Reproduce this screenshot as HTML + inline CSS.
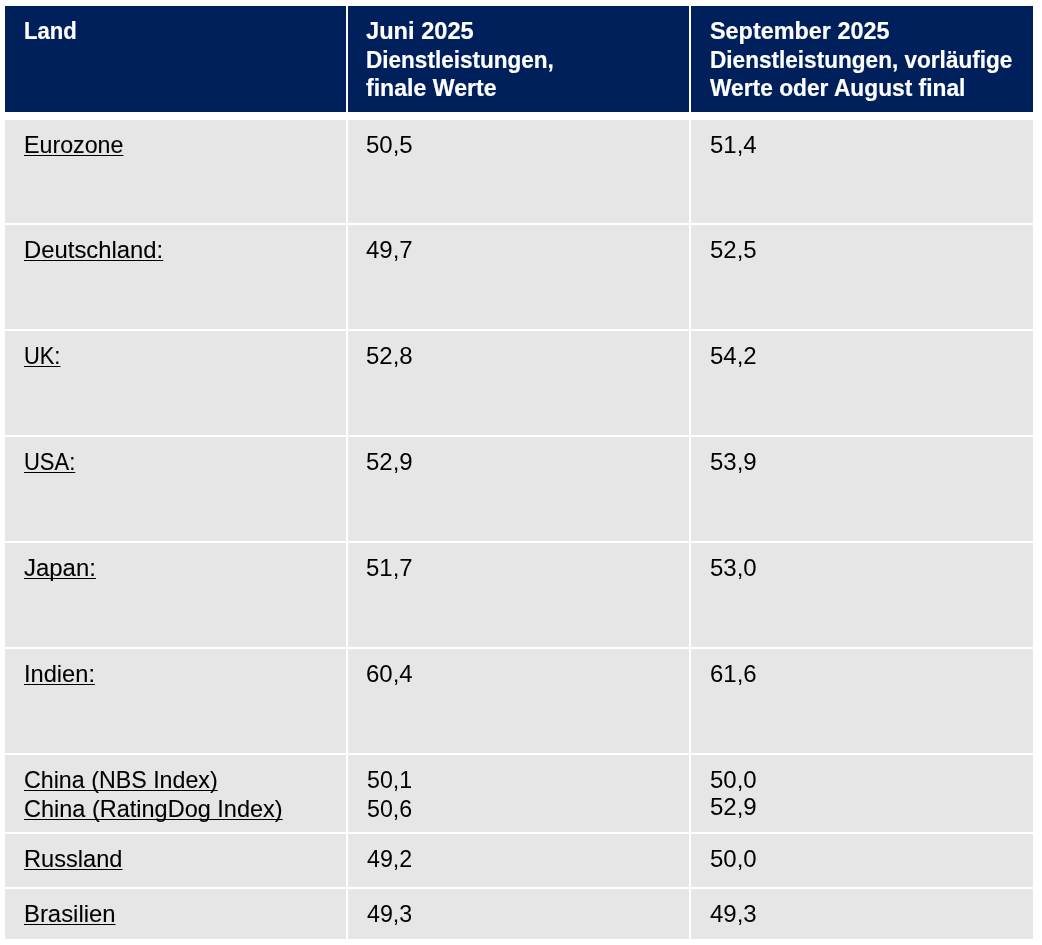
<!DOCTYPE html>
<html lang="de">
<head>
<meta charset="utf-8">
<title>Einkaufsmanagerindizes Dienstleistungen</title>
<style>
html,body{margin:0;padding:0;background:#fff;}
body{width:1042px;height:945px;position:relative;overflow:hidden;font-family:"Liberation Sans",sans-serif;color:#000;}
table{position:absolute;left:3px;top:4px;width:1032px;border-collapse:separate;border-spacing:2px;table-layout:fixed;}
th,td{position:relative;padding:0;margin:0;border:0;background:#e6e6e6;text-align:left;vertical-align:top;font-weight:400;}
th{background:#00205b;background-clip:padding-box;border-bottom:6px solid #fff;height:106px;}
.t{position:absolute;display:block;white-space:nowrap;line-height:28px;font-variant-ligatures:none;transform-origin:0 0;}
.rb{font-weight:700;font-size:24.5px;color:#fff;-webkit-text-stroke:0.2px #fff;}
.rr{font-size:24.5px;-webkit-text-stroke:0.1px #000;text-decoration:underline;text-decoration-thickness:1.3px;text-underline-offset:2.3px;text-decoration-skip-ink:none;}
.rn{font-size:24.5px;}
.ar{font-size:24px;}
</style>
</head>
<body>
<table>
<colgroup><col style="width:341px"><col style="width:341px"><col style="width:342px"></colgroup>
<thead>
<tr>
<th scope="col"><span class="t rb" style="left:18.8px;top:11px;transform:scaleX(0.9020);">Land</span></th>
<th scope="col"><span class="t rb" style="left:18px;top:11px;transform:scaleX(0.9643);">Juni 2025</span><span class="t rb" style="left:18px;top:40px;transform:scaleX(0.9200);">Dienstleistungen,</span><span class="t rb" style="left:18px;top:68px;transform:scaleX(0.9432);">finale Werte</span></th>
<th scope="col"><span class="t rb" style="left:19px;top:11px;transform:scaleX(0.9546);">September 2025</span><span class="t rb" style="left:19px;top:40px;transform:scaleX(0.9217);">Dienstleistungen, vorläufige</span><span class="t rb" style="left:19px;top:68px;transform:scaleX(0.9288);">Werte oder August final</span></th>
</tr>
</thead>
<tbody>
<tr style="height:103px">
<td><span class="t rr" style="left:19.1px;top:11px;transform:scaleX(0.9483);">Eurozone</span></td>
<td><span class="t ar" style="left:18px;top:11px;">50,5</span></td>
<td><span class="t ar" style="left:19px;top:11px;">51,4</span></td>
</tr>
<tr style="height:104px">
<td><span class="t rr" style="left:19.1px;top:11px;transform:scaleX(0.9735);">Deutschland:</span></td>
<td><span class="t ar" style="left:18px;top:11px;">49,7</span></td>
<td><span class="t ar" style="left:19px;top:11px;">52,5</span></td>
</tr>
<tr style="height:104px">
<td><span class="t rr" style="left:19.1px;top:11px;transform:scaleX(0.8921);">UK:</span></td>
<td><span class="t ar" style="left:18px;top:11px;">52,8</span></td>
<td><span class="t ar" style="left:19px;top:11px;">54,2</span></td>
</tr>
<tr style="height:104px">
<td><span class="t rr" style="left:19.1px;top:11px;transform:scaleX(0.8967);">USA:</span></td>
<td><span class="t ar" style="left:18px;top:11px;">52,9</span></td>
<td><span class="t ar" style="left:19px;top:11px;">53,9</span></td>
</tr>
<tr style="height:104px">
<td><span class="t rr" style="left:19.1px;top:11px;transform:scaleX(0.9775);">Japan:</span></td>
<td><span class="t ar" style="left:18px;top:11px;">51,7</span></td>
<td><span class="t ar" style="left:19px;top:11px;">53,0</span></td>
</tr>
<tr style="height:104px">
<td><span class="t rr" style="left:19.1px;top:11px;transform:scaleX(0.9645);">Indien:</span></td>
<td><span class="t ar" style="left:18px;top:11px;">60,4</span></td>
<td><span class="t ar" style="left:19px;top:11px;">61,6</span></td>
</tr>
<tr style="height:77px">
<td><span class="t rr" style="left:19.1px;top:11px;transform:scaleX(0.9484);">China (NBS Index)</span><span class="t rr" style="left:19.1px;top:40px;transform:scaleX(0.9590);">China (RatingDog Index)</span></td>
<td><span class="t rn" style="left:18.5px;top:11px;transform:scaleX(0.9476);">50,1</span><span class="t rn" style="left:18.5px;top:40px;transform:scaleX(0.9476);">50,6</span></td>
<td><span class="t ar" style="left:19px;top:11px;">50,0</span><span class="t ar" style="left:19px;top:38px;">52,9</span></td>
</tr>
<tr style="height:53px">
<td><span class="t rr" style="left:19.1px;top:11px;transform:scaleX(0.9642);">Russland</span></td>
<td><span class="t rn" style="left:18.5px;top:11px;transform:scaleX(0.9476);">49,2</span></td>
<td><span class="t ar" style="left:19px;top:11px;">50,0</span></td>
</tr>
<tr style="height:50px">
<td><span class="t rr" style="left:19.1px;top:11px;transform:scaleX(0.9742);">Brasilien</span></td>
<td><span class="t rn" style="left:18.5px;top:11px;transform:scaleX(0.9476);">49,3</span></td>
<td><span class="t ar" style="left:19px;top:11px;">49,3</span></td>
</tr>
</tbody>
</table>
</body>
</html>
